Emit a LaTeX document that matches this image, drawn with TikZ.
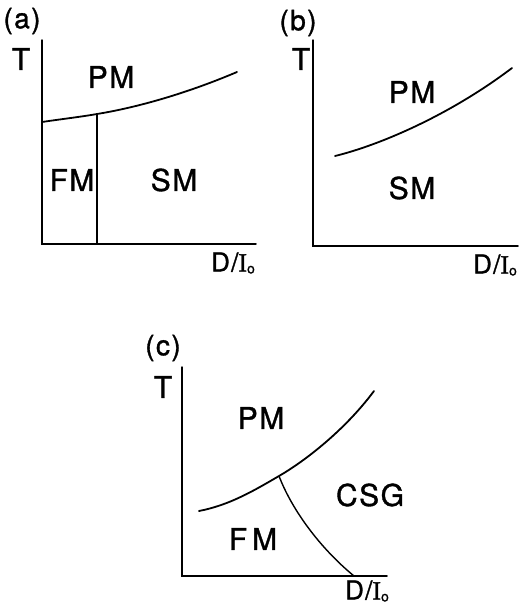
\documentclass[tikz,border=0pt]{standalone}
\usepackage{fontspec}
\setmainfont{TeX Gyre Heros}[LetterSpace=5,FakeBold=1.2]
\newfontfamily\serifI{Liberation Serif}[FakeBold=1.2]
\begin{document}
\begin{tikzpicture}[x=1pt,y=-1pt,
  axis/.style={line width=1.5pt,line cap=round},
  bound/.style={line width=1.8pt,line cap=round},
  lbl/.style={inner sep=0pt,font=\fontsize{30}{34}\selectfont},
  tag/.style={inner sep=0pt,font=\fontsize{28}{32}\selectfont},
  dlbl/.style={inner sep=0pt,font=\fontsize{26}{30}\selectfont}]
\useasboundingbox (0,0) rectangle (522,608);
\newcommand{\DIo}{D/{\serifI I}\raisebox{-2pt}{\fontsize{14}{14}\selectfont o}}
% ---------- (a) ----------
\coordinate (aO) at (42,244);
\coordinate (aY) at (42,40);
\coordinate (aX) at (256,244);
\coordinate (aS) at (42,122);
\coordinate (aJ) at (97,114);
\coordinate (aE) at (237,72);
\coordinate (aB) at (97,244);
\draw[axis] (aY) -- (aO) -- (aX);
\draw[bound] (aS) .. controls (62,119) and (80,117) .. (aJ)
  .. controls (140,107) and (190,92) .. (aE);
\draw[bound] (aJ) -- (aB);
\node[tag] (alab) at (22,21) {(a)};
\node[lbl] (aT) at (21,59) {T};
\node[lbl] (aPM) at (111,77) {PM};
\node[lbl] (aFM) at (72,180) {FM};
\node[lbl] (aSM) at (174,180) {SM};
\node[dlbl] (aD) at (233,263) {\DIo};
% ---------- (b) ----------
\coordinate (bO) at (313,246);
\coordinate (bY) at (313,40);
\coordinate (bX) at (518,246);
\coordinate (bS) at (335,156);
\coordinate (bE) at (512,68);
\draw[axis] (bY) -- (bO) -- (bX);
\draw[bound] (bS) .. controls (380,145) and (450,115) .. (bE);
\node[tag] (blab) at (298,23) {(b)};
\node[lbl] (bT) at (301,59) {T};
\node[lbl] (bPM) at (412,92) {PM};
\node[lbl] (bSM) at (412,188) {SM};
\node[dlbl] (bD) at (495,265) {\DIo};
% ---------- (c) ----------
\coordinate (cO) at (182,576);
\coordinate (cY) at (182,367);
\coordinate (cX) at (387,576);
\coordinate (cS) at (199,511);
\coordinate (cJ) at (279,476);
\coordinate (cE) at (374,391);
\coordinate (cB) at (354,576);
\draw[axis] (cY) -- (cO) -- (cX);
\draw[bound] (cS) .. controls (230,505) and (255,490) .. (cJ)
  .. controls (305,461) and (345,430) .. (cE);
\draw[line width=1.4pt] (cJ) .. controls (292,510) and (320,548) .. (cB);
\node[tag] (clab) at (163,348) {(c)};
\node[lbl] (cT) at (163,387) {T};
\node[lbl] (cPM) at (261,418) {PM};
\node[lbl] (cCSG) at (370,495) {CSG};
\node[lbl] (cFM) at (253,539) {F\,M};
\node[dlbl] (cD) at (367,591) {\DIo};
\end{tikzpicture}
\end{document}
